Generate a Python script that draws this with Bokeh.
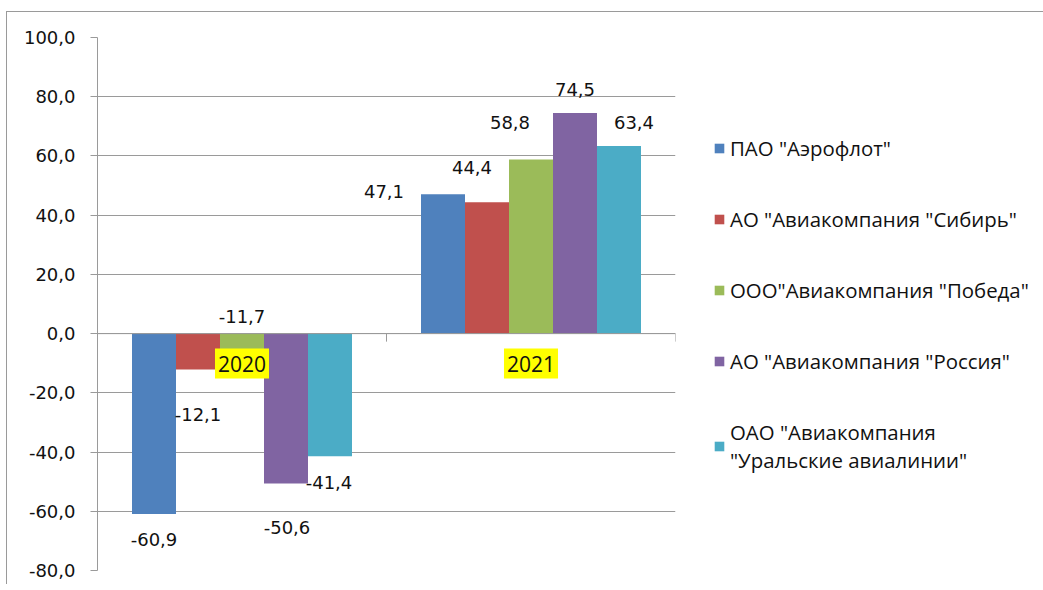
from bokeh.plotting import figure
from bokeh.models import (ColumnDataSource, Legend, LegendItem, Label, CustomJSTickFormatter,
                          FixedTicker, Span)
from bokeh.core.properties import value
from bokeh.embed import file_html
from bokeh.resources import INLINE

# ---- data ----
categories = ["2020", "2021"]
companies = ['ПАО "Аэрофлот"', 'АО "Авиакомпания "Сибирь"', 'ООО"Авиакомпания "Победа"',
             'АО "Авиакомпания "Россия"', 'ОАО "Авиакомпания\n"Уральские авиалинии"']
aeroflot = [-60.9, 47.1]
sibir = [-12.1, 44.4]
pobeda = [-11.7, 58.8]
rossiya = [-50.6, 74.5]
ural = [-41.4, 63.4]
series = [aeroflot, sibir, pobeda, rossiya, ural]
colors = ["#4F81BD", "#C0504D", "#9BBB59", "#8064A2", "#4BACC6"]
y_ticks = [-80, -60, -40, -20, 0, 20, 40, 60, 80, 100]

# label pixel nudges (screen px, dy positive = down) per series, per category
label_dx = [[0, -59], [0, -15], [0, -21], [1, 0], [-1, 15]]
label_dy = [[26, -3], [45, -35], [-52, -37], [44, -24], [26, -23]]

FRAME_W, FRAME_H = 578, 533
Y_MIN, Y_MAX = -80, 100
bar_w = 44 / 289

p = figure(frame_width=FRAME_W, frame_height=FRAME_H, output_backend="svg", toolbar_location=None,
           x_range=(0, len(categories)), y_range=(Y_MIN, Y_MAX),
           x_axis_location=None, min_border_left=90, min_border_top=25,
           min_border_bottom=14, min_border_right=360,
           styles={"margin-top": "11px", "margin-left": "6px",
                   "border-top": "1px solid #9a9a9a", "border-left": "1px solid #9a9a9a"})
p.outline_line_color = None
p.xgrid.visible = False
p.ygrid.grid_line_color = "#9a9a9a"
p.ygrid.grid_line_width = 1

yax = p.yaxis[0]
yax.ticker = FixedTicker(ticks=y_ticks)
yax.formatter = CustomJSTickFormatter(code="return tick.toFixed(1).replace('.', ',');")
yax.axis_line_color = "#9a9a9a"
yax.major_tick_line_color = "#9a9a9a"
yax.major_tick_out = 7
yax.major_tick_in = 0
yax.minor_tick_line_color = None
yax.major_label_standoff = 15
yax.major_label_text_font = "DejaVu Sans"
yax.major_label_text_font_size = "18px"
yax.major_label_text_color = "#111111"

# category axis at zero
p.add_layout(Span(location=0, dimension="width", line_color="#9a9a9a", line_width=1))
tick_len = 8 * (Y_MAX - Y_MIN) / FRAME_H
tx = list(range(len(categories) + 1))
p.segment(x0=tx, x1=tx, y0=[0] * len(tx), y1=[-tick_len] * len(tx),
          line_color="#9a9a9a", line_width=1)

items = []
for j, (vals, col) in enumerate(zip(series, colors)):
    xs = [i + 0.5 + (j - 2) * bar_w for i in range(len(categories))]
    src = ColumnDataSource(dict(x=xs, top=vals, bottom=[0] * len(vals),
                                lbl=[f"{v:.1f}".replace(".", ",") for v in vals],
                                dx=label_dx[j], dy=label_dy[j]))
    r = p.vbar(x="x", top="top", bottom="bottom", width=bar_w, source=src,
               fill_color=col, line_color=None)
    p.text(x="x", y="top", text="lbl", x_offset="dx", y_offset="dy", source=src,
           text_align="center", text_baseline="middle",
           text_font=value("DejaVu Sans"), text_font_size="18px", text_color="#111111")
    items.append(LegendItem(label=companies[j], renderers=[r]))

for i, c in enumerate(categories):
    p.add_layout(Label(x=i + 0.5, y=0, y_offset=-30, text=c, text_align="center",
                       text_baseline="middle", text_font="Open Sans", text_font_size="21px",
                       text_color="#111111", background_fill_color="#FFFF00",
                       padding=dict(left=3, right=3, top=7, bottom=7)))

legend = Legend(items=items, location=(38, 96), padding=0, margin=0,
                border_line_color=None, background_fill_alpha=0,
                glyph_width=12, glyph_height=12, label_standoff=5,
                label_height=28, spacing=43,
                label_text_font="Open Sans", label_text_font_size="20.4px",
                label_text_color="#111111")
p.add_layout(legend, "right")

open("out.html", "w").write(file_html(p, INLINE))
